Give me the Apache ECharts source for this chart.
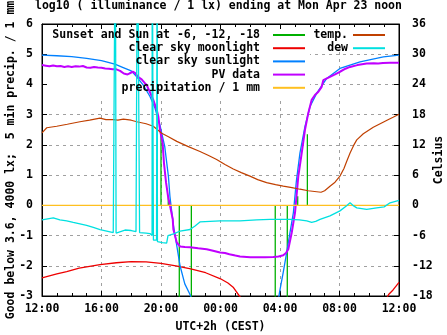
<!DOCTYPE html>
<html><head><meta charset="utf-8">
<script src="https://cdn.jsdelivr.net/npm/echarts@6/dist/echarts.min.js"></script>
<style>html,body{margin:0;padding:0;background:#fff}#c{width:447px;height:335px}</style>
</head><body><div id="c"></div>
<script>
// x = hours since Sun 12:00 (CEST)
const xTickLabels = ['12:00','16:00','20:00','00:00','04:00','08:00','12:00'];

// Sunset and Sun at -6, -12, -18 (impulses from 0)
const sunT = [8.0, 8.49, 9.23, 10.04, 15.68, 16.49, 17.19, 17.84];
const sunV = [2.4, 0.27, -3.5, -3.5, -3.5, -3.5, 0.3, 2.35];

// clear sky moonlight (log10 lx)
const moonT = [0, 1, 1.66, 2.5, 3.9, 5, 6, 7, 8, 9, 10, 11, 12, 12.5, 12.85, 13.27, 13.45, 18, 23.15, 23.3, 23.6, 24];
const moonV = [-2.40, -2.27, -2.19, -2.08, -1.96, -1.90, -1.86, -1.87, -1.92, -2.0, -2.1, -2.23, -2.43, -2.57, -2.71, -3.0, -3.1, null, -3.1, -2.95, -2.8, -2.55];

// clear sky sunlight (log10 lx)
const sunlightT = [0, 1, 2, 3, 4, 4.9, 5.5, 6.0, 6.37, 6.81, 7.26, 7.6, 7.82, 7.93, 8.25, 8.5, 8.6, 8.83, 9.05, 9.28, 9.6, 9.95, 10.05, 13,
  15.9, 15.97, 16.22, 16.45, 16.67, 16.9, 17.1, 17.34, 17.68, 18.02, 18.47, 19.14, 20.03, 21.38, 22.95, 24];
const sunlightV = [4.97, 4.95, 4.92, 4.86, 4.79, 4.67, 4.55, 4.45, 4.25, 3.98, 3.6, 3.21, 2.83, 2.65, 1.95, 0.95, 0.3, -0.65, -1.3, -2.0, -2.6, -2.95, -3.1, null,
  -3.1, -2.87, -2.21, -1.56, -0.9, -0.24, 0.8, 1.73, 2.61, 3.27, 3.71, 4.2, 4.53, 4.75, 4.91, 4.97];

// PV data (log10 lx)
const pvT = [0, 0.25, 0.5, 0.75, 1.0, 1.25, 1.5, 1.75, 2.0, 2.25, 2.5, 2.75, 3.0, 3.25, 3.5, 3.75, 4.0, 4.25, 4.5, 4.75, 5.0, 5.25, 5.5, 5.75, 5.9, 6.1, 6.25, 6.45, 6.7, 6.9, 7.04, 7.25, 7.48, 7.71, 7.82, 7.93, 8.11, 8.2, 8.34, 8.49, 8.61, 8.79, 8.83, 9.06, 9.28, 9.6, 9.95, 10.5, 11.07, 11.5, 11.97, 12.3, 12.6, 13.0, 13.31, 14.0, 14.43, 15.0, 15.55, 15.9, 16.22, 16.4, 16.56, 16.79, 17.01, 17.23, 17.46, 17.68, 17.9, 18.13, 18.35, 18.58, 18.8, 18.91, 19.36, 19.7, 20.03, 20.4, 20.71, 21.2, 21.83, 22.3, 22.6, 22.92, 23.4, 24];
const pvV = [4.64, 4.62, 4.60, 4.63, 4.60, 4.61, 4.58, 4.60, 4.58, 4.60, 4.59, 4.61, 4.56, 4.55, 4.58, 4.56, 4.55, 4.53, 4.52, 4.50, 4.50, 4.45, 4.36, 4.33, 4.37, 4.42, 4.38, 4.25, 4.17, 4.05, 3.98, 3.75, 3.49, 3.16, 2.94, 2.5, 2.06, 1.4, 0.75, 0.25, -0.02, -0.46, -0.79, -1.23, -1.36, -1.38, -1.39, -1.42, -1.45, -1.5, -1.56, -1.58, -1.62, -1.66, -1.69, -1.72, -1.72, -1.72, -1.71, -1.69, -1.65, -1.58, -1.45, -0.9, -0.24, 0.96, 1.73, 2.5, 3.05, 3.49, 3.65, 3.76, 3.92, 4.14, 4.25, 4.33, 4.42, 4.52, 4.58, 4.64, 4.69, 4.70, 4.69, 4.71, 4.72, 4.72];

// precipitation / 1 mm
const precipT = [0, 24];
const precipV = [0, 0];

// temperature (Celsius)
const tempT = [0, 0.32, 0.99, 1.7, 2.55, 3.2, 3.9, 4.3, 4.79, 5.1, 5.47, 6.0, 6.37, 7.0, 7.48, 8.05, 8.5, 9.06, 9.8, 10.62, 11.2, 11.74, 12.3, 12.86, 13.4, 13.98, 14.5, 15.1, 15.7, 16.22, 16.8, 17.34, 17.9, 18.47, 18.76, 19.0, 19.36, 19.7, 20.03, 20.3, 20.48, 20.71, 20.95, 21.16, 21.6, 22.27, 22.8, 23.26, 23.6, 24];
const tempC = [14.4, 15.4, 15.7, 16.1, 16.6, 16.9, 17.3, 17.0, 17.0, 16.9, 17.1, 16.9, 16.6, 16.2, 15.7, 14.3, 13.6, 12.7, 11.7, 10.7, 9.9, 9.1, 8.1, 7.2, 6.5, 5.8, 5.1, 4.5, 4.1, 3.8, 3.5, 3.2, 2.9, 2.7, 2.6, 2.9, 3.8, 4.6, 5.8, 7.3, 8.7, 10.4, 11.9, 13.0, 14.2, 15.5, 16.3, 17.0, 17.5, 18.1];

// dew point (Celsius), with sensor spikes
const dewT = [0, 0.76, 1.2, 1.66, 2.1, 2.55, 3.0, 3.45, 3.9, 4.35, 4.79, 4.92, 4.93, 4.97, 4.98, 5.04, 5.58, 6.0, 6.32, 6.41, 6.42, 6.55, 6.56, 7.0, 7.26, 7.40, 7.41, 7.48, 7.49, 7.70, 7.74, 7.76, 7.8, 8.1, 8.38, 8.47, 8.9, 9.28, 9.95, 10.29, 10.62, 11.3, 11.97, 13.31, 14.43, 15.33, 16.67, 17.3, 17.8, 18.13, 18.4, 18.69, 19.36, 20.03, 20.48, 20.71, 20.9, 21.16, 21.83, 22.5, 23.0, 23.4, 24];
const dewC = [-2.9, -2.5, -2.9, -3.1, -3.4, -3.7, -4.0, -4.4, -4.8, -5.1, -5.4, -5.5, 60, 60, -5.5, -5.3, -4.9, -5.0, -5.2, -5.3, 60, 60, -5.4, -5.5, -5.6, -6.0, 60, 60, -6.9, -6.9, 60, -7.2, -7.2, -7.4, -7.5, -6.0, -5.6, -5.1, -4.8, -4.1, -3.3, -3.2, -3.1, -3.1, -2.9, -2.8, -2.8, -2.9, -3.1, -3.4, -3.2, -2.8, -2.1, -1.1, -0.1, 0.5, 0.0, -0.5, -0.8, -0.5, -0.3, 0.5, 1.0];

const FONT = 'DejaVu Sans Mono';
const FS = 11.5;
const txt = {fontFamily: FONT, fontWeight: 'bold', fontSize: FS, color: '#000'};

function pairs(ts, vs) { return ts.map((t, i) => [t, vs[i] === null ? '-' : vs[i]]); }
const sunData = [];
sunT.forEach((t, i) => { sunData.push([t, 0], [t, sunV[i]], [t, '-']); });

const names1 = ['Sunset and Sun at -6, -12, -18', 'clear sky moonlight', 'clear sky sunlight', 'PV data', 'precipitation / 1 mm'];
const names2 = ['temp.', 'dew'];

function ser(name, data, color, width, yIdx) {
  return {name, type: 'line', data, yAxisIndex: yIdx || 0, xAxisIndex: 0, showSymbol: false, symbol: 'none',
    lineStyle: {color, width}, itemStyle: {color}, emphasis: {disabled: true}, animation: false};
}

const chart = echarts.init(document.getElementById('c'), null, {renderer: 'canvas'});
chart.setOption({
  animation: false,
  backgroundColor: '#fff',
  title: {text: 'log10 ( illuminance / 1 lx) ending at Mon Apr 23 noon', left: 35, top: 0, padding: 0,
    textStyle: Object.assign({}, txt)},
  grid: {left: 42, right: 48, top: 24, bottom: 39, show: true, borderColor: '#000', borderWidth: 1,
    backgroundColor: 'transparent', containLabel: false, outerBoundsMode: 'none'},
  legend: [
    {data: names1, orient: 'vertical', left: 44, top: 29, padding: 0, itemGap: 1.2, itemWidth: 32, itemHeight: 2,
      icon: 'rect', align: 'right', selectedMode: false, formatter: '{a|{name}}',
      textStyle: Object.assign({}, txt, {rich: {a: Object.assign({}, txt, {width: 216, align: 'right', padding: [0, 8, 0, 0], lineHeight: 13})}})},
    {data: names2, orient: 'vertical', left: 308, top: 29, padding: 0, itemGap: 1.2, itemWidth: 32, itemHeight: 2,
      icon: 'rect', align: 'right', selectedMode: false, formatter: '{a|{name}}',
      textStyle: Object.assign({}, txt, {rich: {a: Object.assign({}, txt, {width: 40, align: 'right', lineHeight: 13})}})}
  ],
  graphic: [
    {type: 'rect', shape: {x: 48, y: 30, width: 344, height: 22}, style: {fill: '#fff'}, z: 1, silent: true},
    {type: 'rect', shape: {x: 48, y: 30, width: 262, height: 70}, style: {fill: '#fff'}, z: 1, silent: true}
  ],
  xAxis: [
    {type: 'value', position: 'bottom', min: 0, max: 24, interval: 4,
      name: 'UTC+2h (CEST)', nameLocation: 'middle', nameGap: 25, nameMoveOverlap: false, nameTextStyle: Object.assign({}, txt),
      axisLine: {show: true, onZero: false, lineStyle: {color: '#000', width: 1}},
      axisTick: {show: true, inside: true, length: 5, lineStyle: {color: '#000'}},
      minorTick: {show: true, splitNumber: 4, length: 3, lineStyle: {color: '#000'}},
      splitLine: {show: true, lineStyle: {color: '#a0a0a0', type: [3, 4], width: 1}},
      axisLabel: Object.assign({}, txt, {margin: 7, formatter: v => xTickLabels[Math.round(v / 4)]})},
    {type: 'value', position: 'top', min: 0, max: 24, interval: 4,
      axisLine: {show: true, onZero: false, lineStyle: {color: '#000', width: 1}},
      axisTick: {show: true, inside: true, length: 5, lineStyle: {color: '#000'}},
      minorTick: {show: true, splitNumber: 4, length: 3, lineStyle: {color: '#000'}},
      splitLine: {show: false}, axisLabel: {show: false}}
  ],
  yAxis: [
    {type: 'value', position: 'left', min: -3, max: 6, interval: 1,
      name: 'Good below 3.6, 4000 lx;  5 min precip. / 1 mm', nameLocation: 'middle', nameGap: 25, nameRotate: 90,
      nameMoveOverlap: false, nameTextStyle: Object.assign({}, txt),
      axisLine: {show: true, onZero: false, lineStyle: {color: '#000', width: 1}},
      axisTick: {show: true, inside: true, length: 5, lineStyle: {color: '#000'}},
      splitLine: {show: true, lineStyle: {color: '#a0a0a0', type: [3, 4], width: 1}},
      axisLabel: Object.assign({}, txt, {margin: 9})},
    {type: 'value', position: 'right', min: -18, max: 36, interval: 6,
      name: 'Celsius', nameLocation: 'middle', nameGap: 34, nameRotate: 90,
      nameMoveOverlap: false, nameTextStyle: Object.assign({}, txt),
      axisLine: {show: true, onZero: false, lineStyle: {color: '#000', width: 1}},
      axisTick: {show: true, inside: true, length: 5, lineStyle: {color: '#000'}},
      splitLine: {show: false},
      axisLabel: Object.assign({}, txt, {margin: 13})}
  ],
  series: [
    ser(names1[0], sunData, '#00b000', 1.3),
    ser(names1[1], pairs(moonT, moonV), '#ee0000', 1.3),
    ser(names1[2], pairs(sunlightT, sunlightV), '#0080ff', 1.3),
    ser(names1[3], pairs(pvT, pvV), '#c000ff', 2),
    ser(names1[4], pairs(precipT, precipV), '#ffc020', 1.3),
    ser(names2[0], pairs(tempT, tempC), '#c04000', 1.2, 1),
    ser(names2[1], pairs(dewT, dewC), '#00e0e0', 1.3, 1)
  ]
});
</script></body></html>
